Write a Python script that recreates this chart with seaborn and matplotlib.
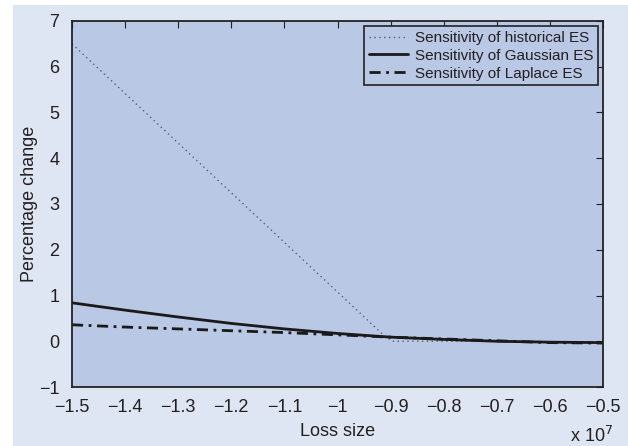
import matplotlib
matplotlib.use("Agg")
import matplotlib.pyplot as plt
from matplotlib.patches import Rectangle
import seaborn as sns
import pandas as pd

# ---- data (loss size in units of 1e7) ----
hist_x = [-1.5, -0.91, -0.895, -0.7, -0.5]
hist_y = [6.5, 0.10, 0.0, 0.0, -0.02]

gauss_x = [-1.5, -1.4, -1.3, -1.2, -1.1, -1.0, -0.9, -0.8, -0.7, -0.6, -0.5]
gauss_y = [0.84, 0.68, 0.53, 0.39, 0.27, 0.17, 0.09, 0.04, 0.0, -0.02, -0.03]

lap_x = [-1.5, -1.4, -1.3, -1.2, -1.1, -1.0, -0.9, -0.8, -0.7, -0.6, -0.5]
lap_y = [0.36, 0.31, 0.27, 0.23, 0.19, 0.14, 0.09, 0.05, 0.01, -0.03, -0.04]

series_names = ["Sensitivity of historical ES",
                "Sensitivity of Gaussian ES",
                "Sensitivity of Laplace ES"]

x_ticks = [-1.5, -1.4, -1.3, -1.2, -1.1, -1.0, -0.9, -0.8, -0.7, -0.6, -0.5]
x_tick_labels = ["\u22121.5", "\u22121.4", "\u22121.3", "\u22121.2", "\u22121.1", "\u22121",
                 "\u22120.9", "\u22120.8", "\u22120.7", "\u22120.6", "\u22120.5"]
y_ticks = [-1, 0, 1, 2, 3, 4, 5, 6, 7]
y_tick_labels = ["\u22121", "0", "1", "2", "3", "4", "5", "6", "7"]

sns.set_theme(style="white")
plt.rcParams['font.family'] = ['Liberation Sans', 'DejaVu Sans']

txt = "#231f20"
fig = plt.figure(figsize=(6.28, 4.46), dpi=100, facecolor="white")
fig.patches.append(Rectangle((13 / 628, 0), 1, 1 - 5 / 446, transform=fig.transFigure,
                             facecolor="#dfe6f3", edgecolor="none", zorder=-10))
ax = fig.add_axes([72 / 628, 1 - 387 / 446, (603 - 72) / 628, (387 - 21) / 446])
ax.set_facecolor("#b9c8e4")

df_h = pd.DataFrame({"x": hist_x, "y": hist_y})
df_g = pd.DataFrame({"x": gauss_x, "y": gauss_y})
df_l = pd.DataFrame({"x": lap_x, "y": lap_y})

sns.lineplot(data=df_h, x="x", y="y", ax=ax, color="#5a6070", lw=1.0,
             linestyle=(0, (1, 2.5)), label=series_names[0])
sns.lineplot(data=df_g, x="x", y="y", ax=ax, color="#1a1a1a", lw=2.0,
             linestyle="-", label=series_names[1])
sns.lineplot(data=df_l, x="x", y="y", ax=ax, color="#1a1a1a", lw=2.0,
             linestyle=(0, (4, 2, 1, 2)), label=series_names[2])

ax.set_xlim(-1.5, -0.5)
ax.set_ylim(-1, 7)
ax.set_xticks(x_ticks)
ax.set_xticklabels(x_tick_labels)
ax.set_yticks(y_ticks)
ax.set_yticklabels(y_tick_labels)
ax.tick_params(direction="in", length=5, width=0.8, top=True, right=True,
               labelsize=13, colors=txt)
ax.tick_params(axis="x", pad=9)
ax.tick_params(axis="y", pad=9)
for sp in ax.spines.values():
    sp.set_color("#222222")
    sp.set_linewidth(1.3)
    sp.set_visible(True)

ax.set_xlabel("Loss size", fontsize=13, color=txt, labelpad=5)
ax.set_ylabel("Percentage change", fontsize=13, color=txt, labelpad=1)
fig.text(613 / 628, 1 - 442 / 446, "x 10$^7$", ha="right", va="baseline",
         fontsize=13, color=txt)

leg = ax.legend(loc="upper right", fontsize=11, frameon=True, fancybox=False,
                edgecolor="#222222", facecolor="#b9c8e4", framealpha=1,
                borderpad=0.3, labelspacing=0.25, handlelength=2.6,
                handletextpad=0.4, borderaxespad=0.35)
leg.get_frame().set_linewidth(1.2)
for t in leg.get_texts():
    t.set_color(txt)

fig.savefig("out.png", dpi=100, facecolor=fig.get_facecolor())
